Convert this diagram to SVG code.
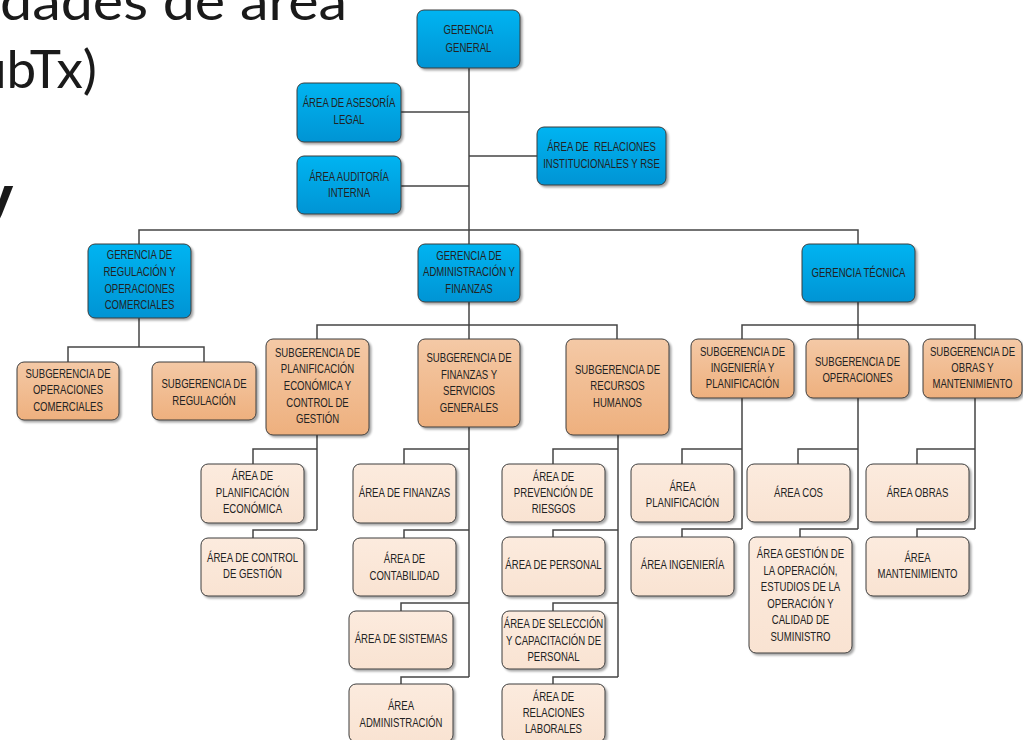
<svg xmlns="http://www.w3.org/2000/svg" width="1023" height="740" viewBox="0 0 1023 740">
<defs>
<linearGradient id="gb" x1="0" y1="0" x2="0" y2="1"><stop offset="0" stop-color="#00B4F1"/><stop offset="1" stop-color="#0094D4"/></linearGradient>
<linearGradient id="go" x1="0" y1="0" x2="0" y2="1"><stop offset="0" stop-color="#F4C9A6"/><stop offset="1" stop-color="#EEB07E"/></linearGradient>
<linearGradient id="gl" x1="0" y1="0" x2="0" y2="1"><stop offset="0" stop-color="#FCEBDE"/><stop offset="1" stop-color="#F9E3D2"/></linearGradient>
<filter id="sh" x="-10%" y="-10%" width="125%" height="130%"><feDropShadow dx="2" dy="2" stdDeviation="1" flood-color="#000" flood-opacity="0.35"/></filter>
</defs>
<style>
.bg{font-family:Lato,"DejaVu Sans",sans-serif;font-weight:400;font-size:53px;fill:#1a1a1a}
.b rect{fill:url(#gb)}
.o rect{fill:url(#go)}
.l rect{fill:url(#gl)}
rect{stroke:#3c3c3c;stroke-width:1;filter:url(#sh)}
text.t{font-family:"Liberation Sans",Arial,sans-serif;font-size:12.6px;fill:#222;text-anchor:middle}
#connectors path{fill:none;stroke:#454545;stroke-width:1.5}
</style>
<rect width="1023" height="740" fill="#fff" style="stroke:none;filter:none"/>
<text class="bg" x="0" y="20" textLength="347" lengthAdjust="spacingAndGlyphs">dades de área</text>
<text class="bg" x="97" y="88" text-anchor="end">ubTx)</text>
<text x="14" y="213" text-anchor="end" style="font-family:'DejaVu Sans',sans-serif;font-weight:bold;font-size:50px;fill:#1a1a1a">y</text>

<g id="connectors">
<path d="M469 68V230M401 112H469M401 186H469M469 156H537"/>
<path d="M139 244V230H858V244M469 230V244"/>
<path d="M139 318V347M68 362V347H204V362"/>
<path d="M469 302V339M317 339V325H617V339"/>
<path d="M858 302V339M742 339V325H975V339"/>
<path d="M317 435V530M317 449H253V464M317 530H253V538"/>
<path d="M469 427V677M469 449H404V464M469 530H404V538M469 603H401V611M469 677H401V684"/>
<path d="M618 434V677M618 449H553V464M618 530H553V537M618 603H553V611M618 677H553V684"/>
<path d="M742 398V529M742 449H682V464M742 529H682V537"/>
<path d="M858 398V529M858 449H798V464M858 529H800V537"/>
<path d="M975 398V529M975 449H917V464M975 529H917V537"/>
</g>

<g id="gerencia-general" class="b"><rect x="417" y="10" width="103" height="58" rx="7"/>
<text class="t" transform="translate(468.5 34) scale(.76 1)"><tspan x="0" y="0">GERENCIA</tspan><tspan x="0" y="18">GENERAL</tspan></text></g>
<g id="asesoria-legal" class="b"><rect x="297" y="83" width="104" height="59" rx="7"/>
<text class="t" transform="translate(349 107) scale(.76 1)"><tspan x="0" y="0">ÁREA DE ASESORÍA</tspan><tspan x="0" y="17">LEGAL</tspan></text></g>
<g id="auditoria-interna" class="b"><rect x="297" y="156" width="104" height="58" rx="7"/>
<text class="t" transform="translate(349 181) scale(.76 1)"><tspan x="0" y="0">ÁREA AUDITORÍA</tspan><tspan x="0" y="16">INTERNA</tspan></text></g>
<g id="relaciones-institucionales" class="b"><rect x="537" y="127" width="129" height="58" rx="7"/>
<text class="t" transform="translate(601.5 151) scale(.76 1)"><tspan x="0" y="0" xml:space="preserve">ÁREA DE  RELACIONES</tspan><tspan x="0" y="17">INSTITUCIONALES Y RSE</tspan></text></g>
<g id="gerencia-regulacion" class="b"><rect x="88" y="244" width="103" height="74" rx="7"/>
<text class="t" transform="translate(139.5 259) scale(.76 1)"><tspan x="0" y="0">GERENCIA DE</tspan><tspan x="0" y="17">REGULACIÓN Y</tspan><tspan x="0" y="34">OPERACIONES</tspan><tspan x="0" y="50">COMERCIALES</tspan></text></g>
<g id="gerencia-administracion" class="b"><rect x="418" y="244" width="102" height="58" rx="7"/>
<text class="t" transform="translate(469 260) scale(.76 1)"><tspan x="0" y="0">GERENCIA DE</tspan><tspan x="0" y="16">ADMINISTRACIÓN Y</tspan><tspan x="0" y="33">FINANZAS</tspan></text></g>
<g id="gerencia-tecnica" class="b"><rect x="802" y="244" width="113" height="58" rx="7"/>
<text class="t" transform="translate(858.5 277) scale(.76 1)"><tspan x="0" y="0">GERENCIA TÉCNICA</tspan></text></g>

<g id="sub-operaciones-comerciales" class="o"><rect x="17" y="362" width="102" height="58" rx="7"/>
<text class="t" transform="translate(68 378) scale(.76 1)"><tspan x="0" y="0">SUBGERENCIA DE</tspan><tspan x="0" y="16">OPERACIONES</tspan><tspan x="0" y="33">COMERCIALES</tspan></text></g>
<g id="sub-regulacion" class="o"><rect x="152" y="362" width="104" height="58" rx="7"/>
<text class="t" transform="translate(204 388) scale(.76 1)"><tspan x="0" y="0">SUBGERENCIA DE</tspan><tspan x="0" y="17">REGULACIÓN</tspan></text></g>
<g id="sub-planificacion" class="o"><rect x="266" y="339" width="103" height="96" rx="7"/>
<text class="t" transform="translate(317.5 357) scale(.76 1)"><tspan x="0" y="0">SUBGERENCIA DE</tspan><tspan x="0" y="16">PLANIFICACIÓN</tspan><tspan x="0" y="33">ECONÓMICA Y</tspan><tspan x="0" y="50">CONTROL DE</tspan><tspan x="0" y="66">GESTIÓN</tspan></text></g>
<g id="sub-finanzas" class="o"><rect x="418" y="339" width="102" height="88" rx="7"/>
<text class="t" transform="translate(469 362) scale(.76 1)"><tspan x="0" y="0">SUBGERENCIA DE</tspan><tspan x="0" y="17">FINANZAS Y</tspan><tspan x="0" y="33">SERVICIOS</tspan><tspan x="0" y="50">GENERALES</tspan></text></g>
<g id="sub-rrhh" class="o"><rect x="566" y="339" width="103" height="96" rx="7"/>
<text class="t" transform="translate(617.5 374) scale(.76 1)"><tspan x="0" y="0">SUBGERENCIA DE</tspan><tspan x="0" y="16">RECURSOS</tspan><tspan x="0" y="33">HUMANOS</tspan></text></g>
<g id="sub-ingenieria" class="o"><rect x="691" y="339" width="103" height="59" rx="7"/>
<text class="t" transform="translate(742.5 356) scale(.76 1)"><tspan x="0" y="0">SUBGERENCIA DE</tspan><tspan x="0" y="16">INGENIERÍA Y</tspan><tspan x="0" y="32">PLANIFICACIÓN</tspan></text></g>
<g id="sub-operaciones" class="o"><rect x="806" y="339" width="103" height="59" rx="7"/>
<text class="t" transform="translate(857.5 366) scale(.76 1)"><tspan x="0" y="0">SUBGERENCIA DE</tspan><tspan x="0" y="16">OPERACIONES</tspan></text></g>
<g id="sub-obras" class="o"><rect x="923" y="339" width="99" height="59" rx="7"/>
<text class="t" transform="translate(972.5 356) scale(.76 1)"><tspan x="0" y="0">SUBGERENCIA DE</tspan><tspan x="0" y="16">OBRAS Y</tspan><tspan x="0" y="32">MANTENIMIENTO</tspan></text></g>

<g id="a-planificacion-economica" class="l"><rect x="201" y="464" width="103" height="59" rx="7"/>
<text class="t" transform="translate(252.5 480) scale(.76 1)"><tspan x="0" y="0">ÁREA DE</tspan><tspan x="0" y="17">PLANIFICACIÓN</tspan><tspan x="0" y="33">ECONÓMICA</tspan></text></g>
<g id="a-control-gestion" class="l"><rect x="201" y="538" width="103" height="58" rx="7"/>
<text class="t" transform="translate(252.5 562) scale(.76 1)"><tspan x="0" y="0">ÁREA DE CONTROL</tspan><tspan x="0" y="16">DE GESTIÓN</tspan></text></g>
<g id="a-finanzas" class="l"><rect x="353" y="464" width="103" height="59" rx="7"/>
<text class="t" transform="translate(404.5 497) scale(.76 1)"><tspan x="0" y="0">ÁREA DE FINANZAS</tspan></text></g>
<g id="a-contabilidad" class="l"><rect x="353" y="538" width="103" height="58" rx="7"/>
<text class="t" transform="translate(404.5 563) scale(.76 1)"><tspan x="0" y="0">ÁREA DE</tspan><tspan x="0" y="17">CONTABILIDAD</tspan></text></g>
<g id="a-sistemas" class="l"><rect x="349" y="611" width="104" height="58" rx="7"/>
<text class="t" transform="translate(401 643) scale(.76 1)"><tspan x="0" y="0">ÁREA DE SISTEMAS</tspan></text></g>
<g id="a-administracion" class="l"><rect x="349" y="684" width="104" height="58" rx="7"/>
<text class="t" transform="translate(401 710) scale(.76 1)"><tspan x="0" y="0">ÁREA</tspan><tspan x="0" y="17">ADMINISTRACIÓN</tspan></text></g>
<g id="a-prevencion" class="l"><rect x="502" y="464" width="103" height="58" rx="7"/>
<text class="t" transform="translate(553.5 481) scale(.76 1)"><tspan x="0" y="0">ÁREA DE</tspan><tspan x="0" y="16">PREVENCIÓN DE</tspan><tspan x="0" y="32">RIESGOS</tspan></text></g>
<g id="a-personal" class="l"><rect x="502" y="537" width="103" height="59" rx="7"/>
<text class="t" transform="translate(553.5 569) scale(.76 1)"><tspan x="0" y="0">ÁREA DE PERSONAL</tspan></text></g>
<g id="a-seleccion" class="l"><rect x="502" y="611" width="103" height="58" rx="7"/>
<text class="t" transform="translate(553.5 628) scale(.76 1)"><tspan x="0" y="0">ÁREA DE SELECCIÓN</tspan><tspan x="0" y="17">Y CAPACITACIÓN DE</tspan><tspan x="0" y="33">PERSONAL</tspan></text></g>
<g id="a-relaciones-laborales" class="l"><rect x="502" y="684" width="103" height="58" rx="7"/>
<text class="t" transform="translate(553.5 701) scale(.76 1)"><tspan x="0" y="0">ÁREA DE</tspan><tspan x="0" y="16">RELACIONES</tspan><tspan x="0" y="32">LABORALES</tspan></text></g>
<g id="a-planificacion" class="l"><rect x="631" y="464" width="103" height="58" rx="7"/>
<text class="t" transform="translate(682.5 491) scale(.76 1)"><tspan x="0" y="0">ÁREA</tspan><tspan x="0" y="16">PLANIFICACIÓN</tspan></text></g>
<g id="a-ingenieria" class="l"><rect x="631" y="537" width="103" height="59" rx="7"/>
<text class="t" transform="translate(682.5 569) scale(.76 1)"><tspan x="0" y="0">ÁREA INGENIERÍA</tspan></text></g>
<g id="a-cos" class="l"><rect x="747" y="464" width="103" height="58" rx="7"/>
<text class="t" transform="translate(798.5 497) scale(.76 1)"><tspan x="0" y="0">ÁREA COS</tspan></text></g>
<g id="a-gestion-operacion" class="l"><rect x="749" y="537" width="103" height="116" rx="7"/>
<text class="t" transform="translate(800.5 558) scale(.76 1)"><tspan x="0" y="0">ÁREA GESTIÓN DE</tspan><tspan x="0" y="17">LA OPERACIÓN,</tspan><tspan x="0" y="33">ESTUDIOS DE LA</tspan><tspan x="0" y="50">OPERACIÓN Y</tspan><tspan x="0" y="66">CALIDAD DE</tspan><tspan x="0" y="83">SUMINISTRO</tspan></text></g>
<g id="a-obras" class="l"><rect x="866" y="464" width="103" height="58" rx="7"/>
<text class="t" transform="translate(917.5 497) scale(.76 1)"><tspan x="0" y="0">ÁREA OBRAS</tspan></text></g>
<g id="a-mantenimiento" class="l"><rect x="866" y="537" width="103" height="59" rx="7"/>
<text class="t" transform="translate(917.5 562) scale(.76 1)"><tspan x="0" y="0">ÁREA</tspan><tspan x="0" y="16">MANTENIMIENTO</tspan></text></g>
</svg>
